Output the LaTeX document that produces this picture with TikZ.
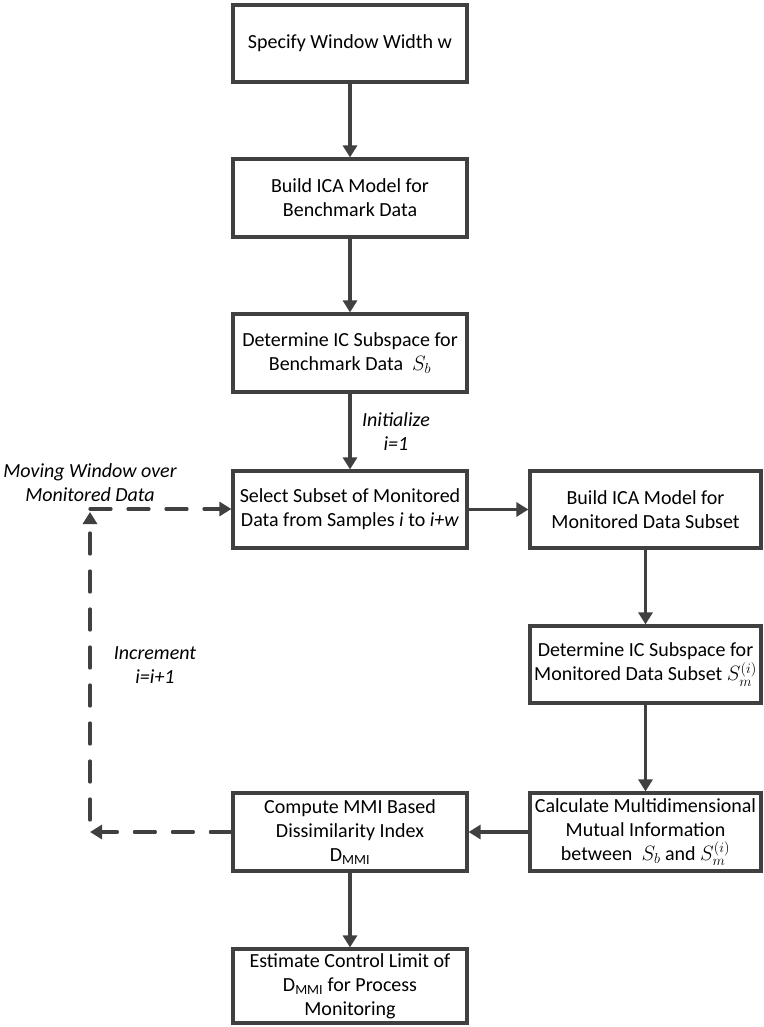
\documentclass[tikz,border=0pt]{standalone}
\usepackage{fontspec}
\setmainfont{Carlito}
\usetikzlibrary{arrows.meta}
\definecolor{ln}{HTML}{404040}
\begin{document}
\begin{tikzpicture}[x=1pt,y=-1pt,
  box/.style={draw=ln,line width=3.2pt,fill=white,align=center,inner sep=0pt,
    font=\fontsize{20}{24}\selectfont},
  conn/.style={draw=ln,line width=3.2pt,-{Triangle[length=12pt,width=14pt]}},
  dconn/.style={conn,line cap=round,dash pattern=on 21pt off 17pt},
  lbl/.style={align=center,font=\fontsize{20}{24}\selectfont\itshape,inner sep=0pt}]
\useasboundingbox (0,0) rectangle (763,1027);
\newcommand{\bx}[6]{\node[box,minimum width=#4-#2,minimum height=#5-#3] (#1) at ({(#2+#4)/2},{(#3+#5)/2}) {#6};}
\bx{b1}{233}{5}{467}{82}{Specify Window Width w}
\bx{b2}{233}{159}{467}{237}{Build ICA Model for\\Benchmark Data}
\bx{b3}{233}{314}{467}{392}{Determine IC Subspace for\\Benchmark Data\ \ $S_b$}
\bx{b4}{233}{471}{467}{548}{Select Subset of Monitored\\Data from Samples \textit{i} to \textit{i+w}}
\bx{b5}{530}{471}{761}{548}{Build ICA Model for\\Monitored Data Subset}
\bx{b6}{530}{626}{761}{703}{Determine IC Subspace for\\Monitored Data Subset $S_m^{(i)}$}
\bx{b7}{530}{793}{761}{871}{Calculate Multidimensional\\Mutual Information\\between\ \ $S_b$ and $S_m^{(i)}$}
\bx{b8}{233}{793}{467}{871}{Compute MMI Based\\Dissimilarity Index\\D\textsubscript{MMI}}
\bx{b9}{233}{949}{467}{1023}{Estimate Control Limit of\\D\textsubscript{MMI} for Process\\Monitoring}
\coordinate (c1) at (90,832);
\coordinate (c2) at (90,820);
\coordinate (c3) at (90,512);
\coordinate (c4) at (90,509);
\draw[conn] (b1) -- (b2);
\draw[conn] (b2) -- (b3);
\draw[conn] (b3) -- (b4);
\draw[conn] (b4) -- (b5);
\draw[conn] (b5) -- (b6);
\draw[conn] (b6) -- (b7);
\draw[conn] (b7) -- (b8);
\draw[conn] (b8) -- (b9);
\draw[dconn] (b8.west) -- (c1);
\draw[dconn] (c2) -- (c3);
\draw[dconn] (c4) -- (b4.west |- c4);
\node[lbl] (l1) at (396,432) {Initialize\\i=1};
\node[lbl] (l2) at (90,483) {Moving Window over\\Monitored Data};
\node[lbl] (l3) at (155,665) {Increment\\i=i+1};
\end{tikzpicture}
\end{document}
